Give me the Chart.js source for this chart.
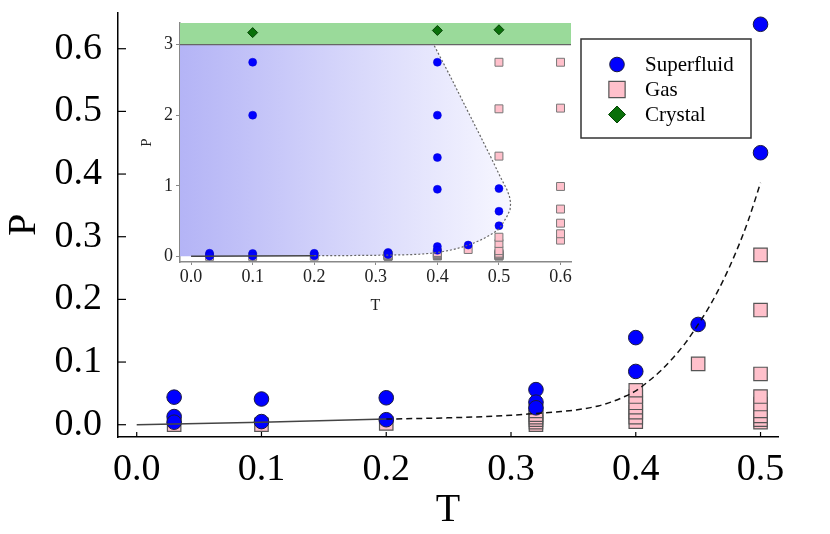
<!DOCTYPE html>
<html>
<head>
<meta charset="utf-8">
<script src="https://cdn.jsdelivr.net/npm/chart.js@4.4.1/dist/chart.umd.min.js"></script>
<style>
  body { margin: 0; background: #fff; }
  #wrap { position: relative; width: 830px; height: 534px; }
  #main { position: absolute; left: 0; top: 0; }
  #inset { position: absolute; left: 130px; top: 10px; }
</style>
</head>
<body>
<div id="wrap">
  <canvas id="main" width="830" height="534"></canvas>
  <canvas id="inset" width="460" height="305"></canvas>
</div>
<script>
// tick labels
const xTicks = [0, 0.1, 0.2, 0.3, 0.4, 0.5];
const yTicks = [0, 0.1, 0.2, 0.3, 0.4, 0.5, 0.6];
const insetXTicks = [0, 0.1, 0.2, 0.3, 0.4, 0.5, 0.6];
const insetYTicks = [0, 1, 2, 3];
const legendLabels = ['Superfluid', 'Gas', 'Crystal'];

// superfluid points (T, P)
const superT = [0.03, 0.03, 0.03, 0.1, 0.1, 0.1, 0.1, 0.2, 0.2, 0.32, 0.32, 0.32,
                0.4, 0.4, 0.4, 0.4, 0.4, 0.4, 0.45, 0.5, 0.5, 0.5];
const superP = [0.044, 0.013, 0.004, 0.041, 0.005, 2.0, 2.75, 0.043, 0.008, 0.056, 0.036, 0.027,
                0.139, 0.085, 0.95, 1.4, 2.0, 2.75, 0.16, 0.434, 0.639, 0.96];

// gas points
const gasT = [0.03, 0.1, 0.2,
              0.32, 0.32, 0.32, 0.32, 0.32, 0.32,
              0.4, 0.4, 0.4, 0.4, 0.4, 0.4, 0.4,
              0.45,
              0.5, 0.5, 0.5, 0.5, 0.5, 0.5, 0.5, 0.5, 0.5, 0.5, 0.5, 0.5,
              0.6, 0.6, 0.6, 0.6, 0.6, 0.6, 0.6];
const gasP = [0.0, 0.0, 0.002,
              0.0, 0.004, 0.008, 0.012, 0.016, 0.022,
              0.005, 0.012, 0.02, 0.028, 0.035, 0.045, 0.055,
              0.097,
              0.004, 0.008, 0.014, 0.022, 0.033, 0.045, 0.081, 0.183, 0.271, 1.42, 2.09, 2.75,
              0.23, 0.32, 0.47, 0.67, 0.99, 2.1, 2.75];

// crystal points
const crystalT = [0.1, 0.4, 0.5];
const crystalP = [3.17, 3.2, 3.21];
const crystalEdge = 3.0;

// solid low-T line
const lineT = [0, 0.1, 0.2];
const lineP = [0, 0.004, 0.009];

// lower phase boundary (dashed in main chart)
const edgeT = [0.2, 0.25, 0.3, 0.32, 0.34, 0.35, 0.36, 0.37, 0.38, 0.39, 0.4, 0.41, 0.42, 0.43, 0.44,
               0.45, 0.46, 0.47, 0.48, 0.49, 0.5];
const edgeP = [0.009, 0.011, 0.015, 0.018, 0.021, 0.023, 0.026, 0.03, 0.036, 0.044, 0.054, 0.069, 0.086, 0.107, 0.131,
               0.16, 0.192, 0.23, 0.274, 0.325, 0.386];

// upper branch of the boundary (inset only)
const upperT = [0.505, 0.513, 0.518, 0.519, 0.517, 0.513, 0.502, 0.486, 0.47, 0.448, 0.421, 0.394];
const upperP = [0.45, 0.566, 0.66, 0.756, 0.85, 0.945, 1.13, 1.42, 1.70, 2.08, 2.55, 3.0];

const serif = "'Liberation Serif', 'Times New Roman', serif";

function toPts(xs, ys) {
  return xs.map((x, i) => ({ x: x, y: ys[i] }));
}

function fixedTicks(list) {
  return scale => { scale.ticks = list.map(v => ({ value: v })); };
}

function noPad(scale) {
  scale.paddingTop = 0; scale.paddingBottom = 0;
  scale.paddingLeft = 0; scale.paddingRight = 0;
}

// short tick marks pointing into the plot
function inwardTicks(color, lenX, lenY) {
  return {
    id: 'inwardTicks',
    afterDatasetsDraw(chart) {
      const { ctx, chartArea: a, scales: { x, y } } = chart;
      ctx.save();
      ctx.strokeStyle = color;
      ctx.lineWidth = 1.2;
      x.ticks.forEach(t => {
        const px = x.getPixelForValue(t.value);
        ctx.beginPath(); ctx.moveTo(px, a.bottom); ctx.lineTo(px, a.bottom - lenX); ctx.stroke();
      });
      y.ticks.forEach(t => {
        const py = y.getPixelForValue(t.value);
        ctx.beginPath(); ctx.moveTo(a.left, py); ctx.lineTo(a.left + lenY, py); ctx.stroke();
      });
      ctx.restore();
    }
  };
}

// boxed legend in the upper right corner
const legendMarkers = [
  { pointStyle: 'circle', radius: 7.3, backgroundColor: '#0000ff', borderColor: '#1a1a40', borderWidth: 1 },
  { pointStyle: 'rect', radius: 11.5, backgroundColor: '#ffc0cb', borderColor: '#555', borderWidth: 1.2 },
  { pointStyle: 'rectRot', radius: 8.5, backgroundColor: '#0a700a', borderColor: '#064406', borderWidth: 1 }
];
const boxLegend = {
  id: 'boxLegend',
  afterDraw(chart) {
    const ctx = chart.ctx;
    ctx.save();
    ctx.fillStyle = '#fff';
    ctx.fillRect(581, 39, 170, 99);
    ctx.strokeStyle = '#333';
    ctx.lineWidth = 1.5;
    ctx.strokeRect(581, 39, 170, 99);
    ctx.font = "21px " + serif;
    ctx.textBaseline = 'middle';
    legendLabels.forEach((text, i) => {
      const m = legendMarkers[i];
      const y = 64.5 + i * 25;
      ctx.fillStyle = m.backgroundColor;
      ctx.strokeStyle = m.borderColor;
      ctx.lineWidth = m.borderWidth;
      Chart.helpers.drawPoint(ctx, { pointStyle: m.pointStyle, radius: m.radius, borderWidth: m.borderWidth, rotation: 0 }, 617, y);
      ctx.fillStyle = '#000';
      ctx.fillText(text, 645, y + 1);
    });
    ctx.restore();
  }
};

// main chart
new Chart(document.getElementById('main'), {
  type: 'scatter',
  data: {
    datasets: [
      { label: 'low', data: toPts(lineT, lineP), showLine: true, borderColor: '#444', borderWidth: 1.5,
        pointRadius: 0, order: 0 },
      { label: 'edge', data: toPts(edgeT, edgeP), showLine: true, borderColor: '#111', borderWidth: 1.5,
        borderDash: [6, 4], pointRadius: 0, cubicInterpolationMode: 'monotone', order: 0 },
      { label: 'Superfluid', data: toPts(superT, superP), pointStyle: 'circle', pointRadius: 7.3,
        backgroundColor: '#0000ff', borderColor: '#1a1a40', borderWidth: 1, order: 1 },
      { label: 'Gas', data: toPts(gasT, gasP), pointStyle: 'rect', pointRadius: 9.5,
        backgroundColor: '#ffc0cb', borderColor: '#555', borderWidth: 1.2, order: 2 }
    ]
  },
  options: {
    responsive: false,
    animation: false,
    layout: { padding: { top: 13, right: 52, left: 0, bottom: 0 } },
    plugins: { legend: { display: false }, tooltip: { enabled: false } },
    scales: {
      x: {
        type: 'linear', min: -0.015, max: 0.514,
        afterBuildTicks: fixedTicks(xTicks),
        afterFit: s => { s.height = 97; noPad(s); },
        ticks: { callback: v => v.toFixed(1), font: { family: serif, size: 38 }, color: '#000',
                 padding: 2, maxRotation: 0, autoSkip: false },
        grid: { display: false },
        border: { color: '#000', width: 1.5 },
        title: { display: true, text: 'T', font: { family: serif, size: 40 }, color: '#000', padding: 0 }
      },
      y: {
        type: 'linear', min: -0.0196, max: 0.657,
        afterBuildTicks: fixedTicks(yTicks),
        afterFit: s => { s.width = 118; noPad(s); },
        ticks: { callback: v => v.toFixed(1), font: { family: serif, size: 38 }, color: '#000',
                 padding: 8, autoSkip: false },
        grid: { display: false },
        border: { color: '#000', width: 1.5 },
        title: { display: true, text: 'P', font: { family: serif, size: 40 }, color: '#000', padding: 0 }
      }
    }
  },
  plugins: [inwardTicks('#000', 5, 8), boxLegend]
});

// inset: shaded superfluid region boundary
const regionT = [-0.018].concat(lineT, edgeT.slice(1), upperT, [-0.018]);
const regionP = [0].concat(lineP, edgeP.slice(1), upperP, [crystalEdge]);
const dottedT = edgeT.concat(upperT);
const dottedP = edgeP.concat(upperP);

new Chart(document.getElementById('inset'), {
  type: 'scatter',
  data: {
    datasets: [
      { label: 'dotted', data: toPts(dottedT, dottedP), showLine: true, borderColor: '#666',
        borderWidth: 1.2, borderDash: [2, 2], pointRadius: 0, order: 0 },
      { label: 'low', data: toPts(lineT, lineP), showLine: true, borderColor: '#444', borderWidth: 1.5,
        pointRadius: 0, order: 0 },
      { label: 'Superfluid', data: toPts(superT, superP), pointStyle: 'circle', pointRadius: 4,
        backgroundColor: '#0000ff', borderColor: '#0000d0', borderWidth: 0.5, order: 1 },
      { label: 'Gas', data: toPts(gasT, gasP), pointStyle: 'rect', pointRadius: 5.6,
        backgroundColor: '#ffc0cb', borderColor: '#777', borderWidth: 1, order: 2 },
      { label: 'Crystal', data: toPts(crystalT, crystalP), pointStyle: 'rectRot', pointRadius: 5,
        backgroundColor: '#0a700a', borderColor: '#064406', borderWidth: 1, order: 1 },
      { label: 'crystal band', data: toPts([-0.018, 0.617], [crystalEdge, crystalEdge]), showLine: true,
        borderColor: '#666', borderWidth: 1.2, pointRadius: 0, fill: 'end',
        backgroundColor: 'rgb(154,218,154)', order: 3 },
      { label: 'region', data: toPts(regionT, regionP), showLine: true, borderWidth: 0, pointRadius: 0,
        fill: 'shape', order: 4,
        backgroundColor: ctx => {
          const chart = ctx.chart;
          const area = chart.chartArea;
          if (!area) return 'rgba(0,0,0,0)';
          const end = chart.scales.x.getPixelForValue(0.52);
          const g = chart.ctx.createLinearGradient(area.left, 0, end, 0);
          g.addColorStop(0, 'rgb(180,180,246)');
          g.addColorStop(1, 'rgb(247,247,255)');
          return g;
        } }
    ]
  },
  options: {
    responsive: false,
    animation: false,
    layout: { padding: { top: 13, right: 19, left: 0, bottom: 0 } },
    plugins: { legend: { display: false }, tooltip: { enabled: false } },
    scales: {
      x: {
        type: 'linear', min: -0.018, max: 0.617,
        afterBuildTicks: fixedTicks(insetXTicks),
        afterFit: s => { s.height = 53; noPad(s); },
        ticks: { callback: v => v.toFixed(1), font: { family: serif, size: 18 }, color: '#222',
                 padding: 1, maxRotation: 0, autoSkip: false },
        grid: { drawOnChartArea: false, tickLength: 3, color: '#888' },
        border: { color: '#888', width: 1.5 },
        title: { display: true, text: 'T', font: { family: serif, size: 16 }, color: '#222', padding: 0 }
      },
      y: {
        type: 'linear', min: -0.08, max: 3.306,
        afterBuildTicks: fixedTicks(insetYTicks),
        afterFit: s => { s.width = 50; noPad(s); },
        ticks: { callback: v => String(v), font: { family: serif, size: 18 }, color: '#222',
                 padding: 3, autoSkip: false },
        grid: { drawOnChartArea: false, tickLength: 4, color: '#888' },
        border: { color: '#888', width: 1.5 },
        title: { display: true, text: 'P', font: { family: serif, size: 15 }, color: '#222', padding: { top: 8 } }
      }
    }
  }
});
</script>
</body>
</html>
